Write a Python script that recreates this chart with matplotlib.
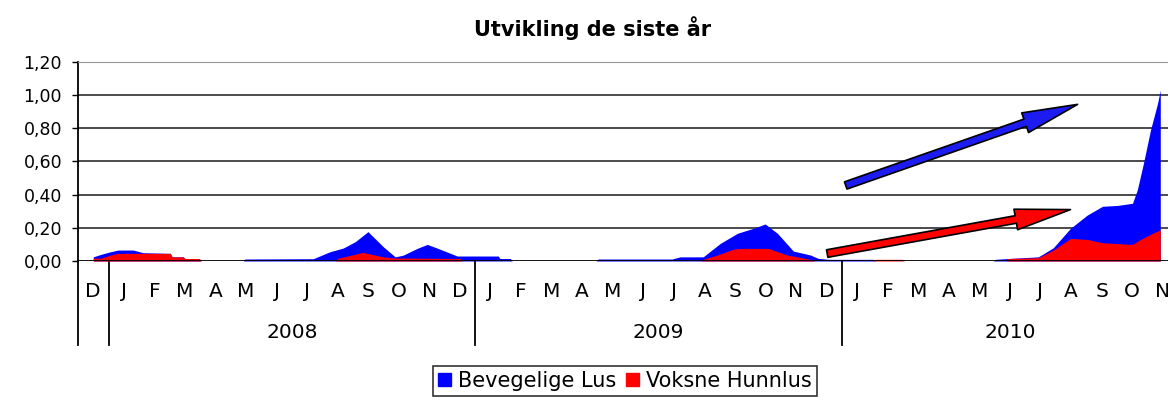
import matplotlib
matplotlib.use("Agg")
import matplotlib.pyplot as plt
from matplotlib.patches import FancyArrowPatch, Rectangle

# time axis in months counted from the start of Dec 2007 (0 = start of D 2007)
blue_t = [0.50, 0.75, 1.05, 1.31, 1.81, 2.13, 3.02, 3.08, 3.44, 3.50, 3.97, 4.03,
          5.41, 5.46, 7.70, 8.25, 8.68, 9.07, 9.49, 9.99, 10.38, 10.64, 11.10,
          11.43, 11.78, 12.41, 13.75, 13.81, 14.15, 14.21, 16.96, 17.02, 19.44,
          19.71, 20.46, 21.02, 21.58, 22.10, 22.49, 22.89, 23.41, 23.97, 24.22,
          24.55, 26.03, 26.09, 29.96, 30.02, 30.44, 31.43, 31.92, 32.48, 33.03,
          33.53, 34.02, 34.51, 34.67, 34.87, 35.10, 35.33, 35.42]
blue_v = [0.025, 0.040, 0.055, 0.066, 0.066, 0.050, 0.046, 0.025, 0.025, 0.015,
          0.015, 0.0, 0.0, 0.012, 0.014, 0.056, 0.078, 0.116, 0.177, 0.086, 0.025,
          0.035, 0.076, 0.100, 0.076, 0.030, 0.030, 0.015, 0.015, 0.0, 0.0, 0.012,
          0.012, 0.025, 0.025, 0.106, 0.167, 0.197, 0.223, 0.167, 0.060, 0.036,
          0.016, 0.010, 0.010, 0.0, 0.0, 0.010, 0.015, 0.025, 0.080, 0.197, 0.277,
          0.330, 0.335, 0.348, 0.430, 0.590, 0.790, 0.950, 1.030]

red_t = [0.50, 0.75, 1.05, 1.31, 3.02, 3.08, 3.44, 3.50, 3.97, 4.03, 8.43, 8.48,
         9.32, 9.99, 10.32, 12.50, 12.57, 20.40, 20.46, 20.92, 21.43, 21.68,
         22.59, 23.21, 23.91, 24.13, 26.03, 26.09, 26.98, 27.04, 30.38, 30.44,
         31.43, 31.92, 32.48, 33.03, 33.53, 34.51, 34.77, 35.20, 35.42]
red_v = [0.017, 0.017, 0.035, 0.046, 0.046, 0.025, 0.025, 0.015, 0.015, 0.0, 0.0,
         0.015, 0.052, 0.025, 0.018, 0.015, 0.0, 0.0, 0.010, 0.036, 0.070, 0.076,
         0.076, 0.036, 0.012, 0.0, 0.0, 0.010, 0.010, 0.0, 0.0, 0.015, 0.020,
         0.066, 0.136, 0.130, 0.110, 0.100, 0.130, 0.170, 0.187]

months = ["D", "J", "F", "M", "A", "M", "J", "J", "A", "S", "O", "N", "D",
          "J", "F", "M", "A", "M", "J", "J", "A", "S", "O", "N", "D",
          "J", "F", "M", "A", "M", "J", "J", "A", "S", "O", "N"]
years = ["2008", "2009", "2010"]
year_start = [1, 13, 25]
year_end = [13, 25, 36]
y_ticks = [0.0, 0.2, 0.4, 0.6, 0.8, 1.0, 1.2]

# arrows: (tail month, tail value, tip month, tip value)
blue_arrow = (25.04, 0.45, 32.80, 0.95)
red_arrow = (24.43, 0.042, 32.57, 0.313)

BLUE = "#0000ff"
RED = "#ff0000"

plt.rcParams["font.family"] = ["DejaVu Sans"]

fig = plt.figure(figsize=(11.68, 4.01), dpi=100)
# plot area runs past the right edge of the picture, as in the original crop
ax = fig.add_axes([78 / 1168, 140 / 401, 1100 / 1168, 199 / 401])
ax.set_xlim(0, 36)
ax.set_ylim(0, 1.2)

for y in y_ticks[1:-1]:
    ax.axhline(y, color="#1a1a1a", lw=1.1, zorder=1)

ax.fill_between(blue_t, blue_v, color=BLUE, lw=0, zorder=2)
ax.fill_between(red_t, red_v, color=RED, lw=0, zorder=3)
ax.axhline(0, color="black", lw=1.3, zorder=4)

for tail_x, tail_y, tip_x, tip_y, col in [(*blue_arrow, "#1c1cf0"), (*red_arrow, RED)]:
    arr = FancyArrowPatch((tail_x, tail_y), (tip_x, tip_y),
                          arrowstyle="simple,head_length=40,head_width=15,tail_width=5.5",
                          mutation_scale=1, facecolor=col, edgecolor="black",
                          lw=1.2, zorder=5)
    ax.add_patch(arr)

ax.set_yticks(y_ticks)
ax.set_yticklabels([f"{v:.2f}".replace(".", ",") for v in y_ticks], fontsize=12.5)
ax.tick_params(axis="y", length=4.5, width=1, pad=7)

ax.set_xticks([i + 0.5 for i in range(len(months))])
ax.set_xticklabels(months, fontsize=14.5)
ax.tick_params(axis="x", length=0, pad=15)

for s in ("right", "bottom"):
    ax.spines[s].set_visible(False)
ax.spines["top"].set_color("#999999")
ax.spines["left"].set_linewidth(1.3)

# category separators below the plot
xt = ax.get_xaxis_transform()
for x in [0, 1, 13, 25]:
    ax.plot([x, x], [0, -0.422], color="black", lw=1.3, transform=xt, clip_on=False)
for name, a, b in zip(years, year_start, year_end):
    ax.text((a + b) / 2, -0.36, name, transform=xt, ha="center", va="center",
            fontsize=14.5)

fig.text(593 / 1168, 1 - 28 / 401, "Utvikling de siste år", ha="center", va="center",
         fontsize=15, fontweight="bold")

handles = [Rectangle((0, 0), 1, 1, color=BLUE), Rectangle((0, 0), 1, 1, color=RED)]
leg = fig.legend(handles, ["Bevegelige Lus", "Voksne Hunnlus"], loc="upper center",
                 bbox_to_anchor=(625 / 1168, 1 - 366 / 401), ncol=2, fontsize=15,
                 frameon=True, fancybox=False, edgecolor="black", handlelength=0.6,
                 handleheight=0.6, handletextpad=0.35, columnspacing=0.5,
                 borderpad=0.25, borderaxespad=0)
leg.get_frame().set_linewidth(1.2)

fig.savefig("out.png", dpi=100, facecolor="white")
